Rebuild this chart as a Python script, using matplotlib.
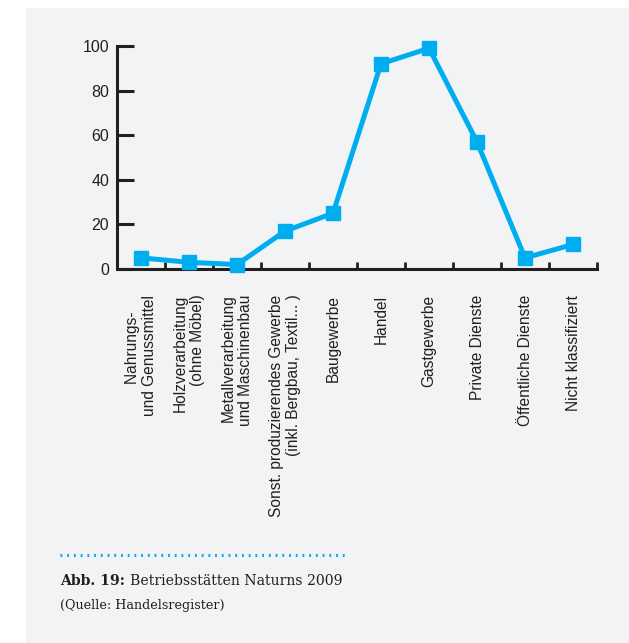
import matplotlib
matplotlib.use("Agg")
import matplotlib.pyplot as plt
from matplotlib.patches import Rectangle
from matplotlib.lines import Line2D

# Daten: Betriebsstätten Naturns 2009
categories = [
    "Nahrungs-    \nund Genussmittel",
    "Holzverarbeitung\n(ohne Möbel)",
    "Metallverarbeitung\nund Maschinenbau",
    "Sonst. produzierendes Gewerbe\n(inkl. Bergbau, Textil... )",
    "Baugewerbe",
    "Handel",
    "Gastgewerbe",
    "Private Dienste",
    "Öffentliche Dienste",
    "Nicht klassifiziert",
]
values = [5, 3, 2, 17, 25, 92, 99, 57, 5, 11]
y_ticks = [0, 20, 40, 60, 80, 100]

W, H = 629, 643
BG = "#f2f3f5"
BLUE = "#00aeef"
DARK = "#231f20"
SERIF = ["DejaVu Serif", "Liberation Serif"]

plt.rcParams["font.family"] = ["Liberation Sans", "DejaVu Sans"]

fig = plt.figure(figsize=(W / 100, H / 100), dpi=100)
fig.patch.set_facecolor("white")

# grauer Hintergrund
fig.add_artist(Rectangle((26 / W, 0), 1 - 26 / W, 1 - 8 / H,
                         transform=fig.transFigure, facecolor=BG,
                         edgecolor="none", zorder=0))

ax = fig.add_axes([117 / W, 1 - 269 / H, 480 / W, 223 / H])
ax.set_facecolor("none")

x = list(range(len(values)))
ax.plot(x, values, color=BLUE, linewidth=3.6, marker="s",
        markersize=10, markerfacecolor=BLUE, markeredgecolor=BLUE,
        clip_on=False, zorder=3)

ax.set_xlim(-0.5, len(values) - 0.5)
ax.set_ylim(0, 100)

for side in ["top", "right"]:
    ax.spines[side].set_visible(False)
for side in ["left", "bottom"]:
    ax.spines[side].set_linewidth(2.2)
    ax.spines[side].set_color(DARK)

# Ticks an den Kategoriengrenzen, Beschriftungen in der Mitte
ax.set_xticks([i + 0.5 for i in range(len(values))])
ax.set_xticks(x, minor=True)
ax.set_xticklabels([])
ax.set_xticklabels(categories, minor=True, rotation=90, ha="center",
                   va="top", multialignment="right", fontsize=11.2,
                   color=DARK)
ax.tick_params(axis="x", which="major", direction="in", length=5,
               width=2, color=DARK)
ax.tick_params(axis="x", which="minor", length=0, pad=18.5)

ax.set_yticks(y_ticks)
ax.set_yticklabels([str(v) for v in y_ticks], fontsize=11.5, color=DARK)
ax.tick_params(axis="y", direction="in", length=12, width=2.2,
               color=DARK, pad=5.5)

# gepunktete Trennlinie
fig.add_artist(Line2D([60 / W, 345 / W], [1 - 555 / H, 1 - 555 / H],
                      transform=fig.transFigure, color=BLUE,
                      linestyle=(0, (0.6, 1.6)), linewidth=2.2))

# Bildunterschrift
t1 = fig.text(60 / W, 1 - 585 / H, "Abb. 19:", fontsize=10.1,
              family=SERIF, fontweight="bold", color=DARK, va="baseline")
fig.canvas.draw()
bb = t1.get_window_extent()
fig.text((bb.x1 + 5) / W, 1 - 585 / H, "Betriebsstätten Naturns 2009",
         fontsize=10.1, family=SERIF, color=DARK, va="baseline")
fig.text(60 / W, 1 - 609 / H, "(Quelle: Handelsregister)", fontsize=9.2,
         family=SERIF, color=DARK, va="baseline")

fig.savefig("out.png", dpi=100)
